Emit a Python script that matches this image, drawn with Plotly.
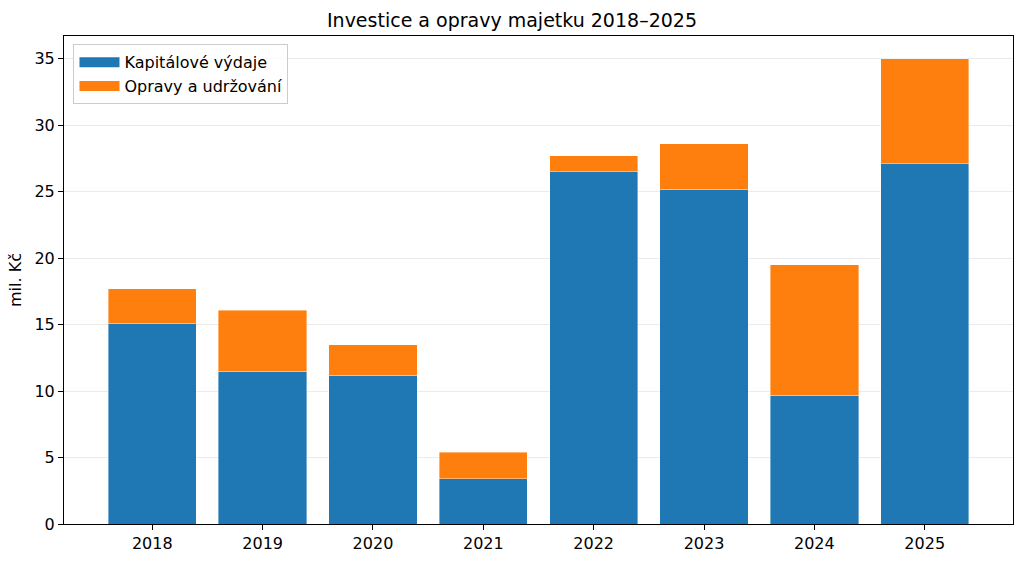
import plotly.graph_objects as go

years = ["2018", "2019", "2020", "2021", "2022", "2023", "2024", "2025"]
capex = [15.1, 11.5, 11.2, 3.4, 26.5, 25.2, 9.7, 27.1]
repairs = [2.6, 4.6, 2.3, 2.0, 1.2, 3.4, 9.8, 7.9]
names = ["Kapitálové výdaje", "Opravy a udržování"]
colors = ["#1f77b4", "#ff7f0e"]

FONT = "DejaVu Sans"

fig = go.Figure()
for vals, nm, col in zip([capex, repairs], names, colors):
    fig.add_trace(go.Bar(x=years, y=vals, name=nm, showlegend=False,
                         marker=dict(color=col, line=dict(color="rgba(255,255,255,0.5)", width=0.8)),
                         width=0.8))
# legend proxies (wide rectangular patches like the reference)
for nm, col in zip(names, colors):
    fig.add_trace(go.Scatter(x=[None], y=[None], mode="lines", name=nm,
                             line=dict(color=col, width=12)))

fig.update_layout(
    barmode="stack",
    width=1024, height=562,
    margin=dict(l=64, r=11, t=36, b=38, autoexpand=False),
    paper_bgcolor="white", plot_bgcolor="white",
    font=dict(family=FONT, size=16, color="black"),
    title=dict(text="Investice a opravy majetku 2018–2025", x=0.5, xanchor="center",
               y=1 - 20 / 562, yanchor="middle", font=dict(size=19, family=FONT)),
    legend=dict(x=0.01, y=0.983, xanchor="left", yanchor="top",
                bordercolor="#cccccc", borderwidth=1, bgcolor="rgba(255,255,255,0.8)",
                font=dict(size=16), traceorder="normal", tracegroupgap=0, itemwidth=40),
    showlegend=True,
)
fig.update_xaxes(type="category", range=[-0.8, 7.8], showline=True, linecolor="black",
                 linewidth=1, mirror=True, ticks="outside", ticklen=5, tickcolor="black",
                 showgrid=False, tickfont=dict(size=16), automargin=False)
fig.update_yaxes(range=[0, 36.72], dtick=5, showline=True, linecolor="black", linewidth=1,
                 mirror=True, ticks="outside", ticklen=5, tickcolor="black",
                 showgrid=True, gridcolor="#ebebeb", gridwidth=1, zeroline=False,
                 title=dict(text="mil. Kč", font=dict(size=16), standoff=8),
                 tickfont=dict(size=16), automargin=False)

fig.write_html("out.html")
